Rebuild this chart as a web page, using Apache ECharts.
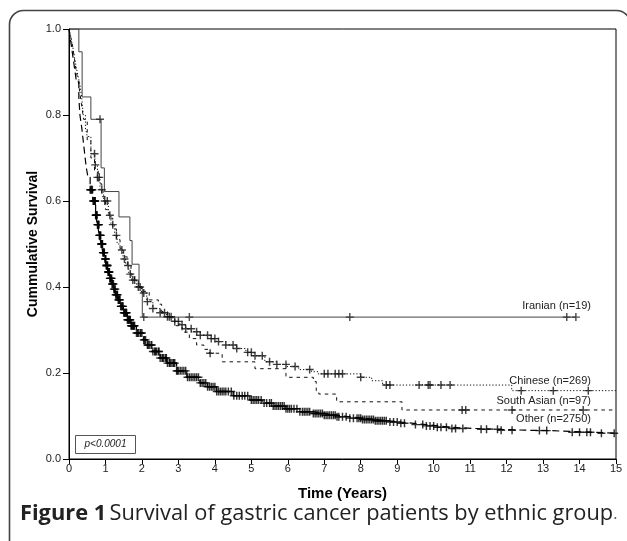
<!DOCTYPE html>
<html>
<head>
<meta charset="utf-8">
<script src="https://cdn.jsdelivr.net/npm/echarts@6/dist/echarts.min.js"></script>
<style>
html,body{margin:0;padding:0;background:#fff;}
#c{width:627px;height:541px;}
</style>
</head>
<body>
<div id="c"></div>
<script>
// ---- Data (time in years, cumulative survival) ----
const xTicks = [0,1,2,3,4,5,6,7,8,9,10,11,12,13,14,15];
const yTicks = [0.0,0.2,0.4,0.6,0.8,1.0];

const iranian = [[0,1],[0.27,0.947],[0.36,0.842],[0.60,0.79],[0.88,0.677],[0.97,0.622],[1.37,0.563],[1.67,0.508],[1.73,0.453],[1.92,0.40],[2.01,0.33],[13.9,0.33]];
const iranianCensor = [0.85,2.05,3.3,7.7,13.65,13.9];

const chinese = [[0,1],[0.05,0.98],[0.1,0.96],[0.15,0.935],[0.2,0.91],[0.25,0.89],[0.3,0.87],[0.35,0.84],[0.39,0.8],[0.45,0.77],[0.5,0.75],[0.6,0.71],[0.71,0.684],[0.78,0.655],[0.85,0.626],[0.95,0.6],[1.08,0.567],[1.15,0.545],[1.25,0.52],[1.32,0.5],[1.4,0.486],[1.48,0.465],[1.55,0.45],[1.64,0.43],[1.72,0.416],[1.85,0.4],[1.99,0.386],[2.13,0.366],[2.3,0.35],[2.5,0.34],[2.68,0.331],[2.85,0.32],[3.04,0.312],[3.2,0.303],[3.36,0.296],[3.6,0.288],[3.87,0.28],[4.05,0.273],[4.3,0.265],[4.6,0.257],[4.85,0.248],[5.05,0.24],[5.37,0.226],[5.7,0.22],[5.97,0.215],[6.3,0.208],[6.65,0.203],[6.83,0.198],[8.0,0.19],[8.3,0.182],[8.6,0.172],[12.14,0.159],[15,0.159]];
const chineseCensor = [0.7,0.72,0.78,0.83,0.9,0.98,1.05,1.12,1.2,1.3,1.45,1.52,1.62,1.68,1.75,1.8,1.9,1.95,2.05,2.15,2.3,2.5,2.62,2.7,2.75,2.8,2.9,3.0,3.1,3.2,3.35,3.5,3.6,3.8,3.9,4.0,4.1,4.3,4.5,4.6,4.9,5.0,5.1,5.3,5.5,5.7,5.95,6.2,6.6,7.0,7.1,7.3,7.4,7.5,8.0,8.7,8.8,9.6,9.85,9.9,10.2,10.45,12.4,13.28,14.24];

const southAsian = [[0,1],[0.05,0.98],[0.1,0.96],[0.15,0.93],[0.2,0.9],[0.25,0.88],[0.3,0.85],[0.35,0.82],[0.4,0.79],[0.5,0.74],[0.6,0.7],[0.7,0.67],[0.8,0.64],[0.9,0.61],[1.0,0.58],[1.1,0.56],[1.2,0.535],[1.3,0.51],[1.4,0.49],[1.5,0.47],[1.6,0.45],[1.7,0.43],[1.8,0.415],[1.9,0.4],[2.0,0.39],[2.2,0.37],[2.45,0.36],[2.54,0.343],[2.7,0.33],[2.9,0.31],[3.1,0.295],[3.3,0.28],[3.5,0.265],[3.7,0.255],[3.85,0.246],[4.2,0.226],[5.1,0.21],[5.95,0.19],[6.7,0.18],[6.78,0.159],[6.85,0.151],[7.34,0.133],[9.13,0.114],[15,0.114]];
const southAsianCensor = [3.87,10.78,10.88,12.15,14.1];

const other = [[0,1],[0.05,0.97],[0.1,0.94],[0.15,0.91],[0.2,0.88],[0.27,0.84],[0.3,0.8],[0.35,0.77],[0.39,0.74],[0.43,0.71],[0.47,0.68],[0.52,0.655],[0.58,0.626],[0.65,0.6],[0.73,0.567],[0.78,0.545],[0.83,0.52],[0.88,0.5],[0.93,0.48],[0.98,0.465],[1.02,0.45],[1.07,0.435],[1.12,0.42],[1.18,0.407],[1.23,0.395],[1.28,0.382],[1.34,0.37],[1.41,0.355],[1.49,0.34],[1.6,0.324],[1.7,0.31],[1.85,0.293],[2.04,0.277],[2.15,0.265],[2.3,0.25],[2.5,0.235],[2.68,0.223],[2.95,0.205],[3.23,0.19],[3.59,0.177],[3.8,0.168],[4.05,0.157],[4.5,0.147],[4.96,0.137],[5.3,0.13],[5.6,0.123],[5.95,0.117],[6.33,0.11],[6.7,0.106],[7.0,0.102],[7.35,0.098],[7.7,0.095],[8.05,0.092],[8.4,0.089],[8.75,0.086],[9.07,0.083],[9.45,0.08],[9.8,0.077],[10.1,0.074],[10.45,0.071],[11.1,0.069],[11.8,0.067],[12.5,0.066],[13.19,0.064],[13.8,0.062],[14.37,0.06],[15,0.06]];
const otherCensor = [0.58,0.6,0.62,0.64,0.66,0.68,0.7,0.71,0.72,0.73,0.74,0.75,0.76,0.77,0.78,0.79,0.8,0.81,0.82,0.83,0.84,0.85,0.86,0.87,0.88,0.89,0.9,0.91,0.92,0.93,0.94,0.95,0.96,0.97,0.99,1.0,1.01,1.02,1.03,1.04,1.05,1.06,1.07,1.08,1.09,1.1,1.11,1.12,1.13,1.14,1.15,1.17,1.18,1.2,1.22,1.23,1.25,1.27,1.28,1.3,1.32,1.33,1.35,1.37,1.38,1.4,1.42,1.43,1.45,1.47,1.48,1.5,1.52,1.53,1.55,1.57,1.58,1.6,1.62,1.63,1.65,1.67,1.68,1.7,1.72,1.73,1.75,1.77,1.78,1.8,1.85,1.88,1.9,1.95,1.97,2.0,2.05,2.07,2.1,2.15,2.17,2.2,2.25,2.27,2.3,2.35,2.37,2.4,2.45,2.47,2.5,2.55,2.57,2.6,2.65,2.67,2.7,2.75,2.77,2.8,2.85,2.87,2.9,2.95,2.97,3.0,3.05,3.1,3.15,3.2,3.25,3.3,3.35,3.4,3.45,3.5,3.55,3.6,3.65,3.7,3.75,3.8,3.85,3.9,3.95,4.0,4.05,4.1,4.15,4.2,4.25,4.3,4.37,4.45,4.52,4.6,4.67,4.75,4.82,4.9,5.0,5.05,5.1,5.15,5.2,5.27,5.35,5.42,5.5,5.55,5.6,5.65,5.7,5.75,5.8,5.85,5.9,5.95,6.0,6.05,6.1,6.17,6.25,6.33,6.4,6.45,6.5,6.55,6.6,6.7,6.75,6.8,6.85,6.9,6.95,7.0,7.05,7.1,7.15,7.2,7.25,7.3,7.35,7.4,7.5,7.6,7.7,7.8,7.9,7.95,8.0,8.05,8.1,8.15,8.2,8.25,8.3,8.35,8.4,8.45,8.5,8.55,8.6,8.65,8.7,8.8,8.9,9.0,9.1,9.2,9.5,9.7,9.8,9.9,10.0,10.1,10.2,10.35,10.5,10.6,10.8,11.3,11.45,11.75,11.85,12.15,12.9,13.1,13.8,14.0,14.2,14.3,14.6,14.95];

const groupNames = ['Iranian (n=19)','Chinese (n=269)','South Asian (n=97)','Other (n=2750)'];

// ---- helpers ----
function survAt(curve, t){
  let s = curve[0][1];
  for (const p of curve){ if (p[0] <= t) s = p[1]; else break; }
  return s;
}
function censorPts(curve, times){ return times.map(t => [t, survAt(curve, t)]); }

const plus = 'path://M4.1,0H5.9V4.1H10V5.9H5.9V10H4.1V5.9H0V4.1H4.1Z';
const FONT = 'Liberation Sans';

function lineSeries(data, dash, color, width){
  return {type:'line', data:data, step:'end', symbol:'none', silent:true,
    lineStyle:{color:color, width:width, type:dash}, z:2};
}
function censorSeries(data, color){
  return {type:'scatter', data:data, symbol:plus, symbolSize:8, silent:true,
    itemStyle:{color:color}, z:3};
}

const chart = echarts.init(document.getElementById('c'), null, {renderer:'canvas'});
chart.setOption({
  animation:false,
  backgroundColor:'#fff',
  grid:{left:69, right:11, top:29, bottom:82, show:true, borderColor:'#000', borderWidth:1, backgroundColor:'transparent'},
  xAxis:{type:'value', min:0, max:15, interval:1,
    name:'Time (Years)', nameLocation:'middle', nameGap:27,
    nameTextStyle:{fontFamily:FONT, fontWeight:'bold', fontSize:15, color:'#000'},
    axisLine:{lineStyle:{color:'#000', width:1}},
    axisTick:{show:true, length:5, lineStyle:{color:'#000'}},
    axisLabel:{fontFamily:FONT, fontSize:11, color:'#222', margin:4,
      formatter:v => xTicks.includes(v) ? String(v) : ''},
    splitLine:{show:false}},
  yAxis:{type:'value', min:0, max:1, interval:0.2,
    name:'Cummulative Survival', nameLocation:'middle', nameGap:29, nameMoveOverlap:false,
    nameTextStyle:{fontFamily:FONT, fontWeight:'bold', fontSize:14, color:'#000'},
    axisLine:{show:true, lineStyle:{color:'#000', width:1}},
    axisTick:{show:true, length:6, lineStyle:{color:'#000'}},
    axisLabel:{fontFamily:FONT, fontSize:11, color:'#222', margin:8,
      formatter:v => yTicks.map(x=>x.toFixed(1)).includes(v.toFixed(1)) ? v.toFixed(1) : ''},
    splitLine:{show:false}},
  series:[
    lineSeries(iranian,'solid','#444',1),
    censorSeries(censorPts(iranian, iranianCensor),'#222'),
    lineSeries(chinese,[1.2,2],'#111',1),
    censorSeries(censorPts(chinese, chineseCensor),'#111'),
    lineSeries(southAsian,[3.5,4],'#111',1),
    censorSeries(censorPts(southAsian, southAsianCensor),'#111'),
    lineSeries(other,[7,4],'#000',1.2),
    censorSeries(censorPts(other, otherCensor),'#000')
  ],
  graphic:[
    {type:'rect', shape:{x:9.5, y:10.5, width:621, height:560, r:14}, silent:true,
      style:{fill:'none', stroke:'#444', lineWidth:1.6}, z:-1},
    {type:'text', right:36, top:300, silent:true,
      style:{text:groupNames[0], font:'11px "Liberation Sans"', fill:'#222'}},
    {type:'text', right:36, top:375, silent:true,
      style:{text:groupNames[1], font:'11px "Liberation Sans"', fill:'#222'}},
    {type:'text', right:36, top:395, silent:true,
      style:{text:groupNames[2], font:'11px "Liberation Sans"', fill:'#222'}},
    {type:'text', right:36, top:413, silent:true,
      style:{text:groupNames[3], font:'11px "Liberation Sans"', fill:'#222'}},
    {type:'rect', shape:{x:75.5, y:435.5, width:60, height:18}, silent:true,
      style:{fill:'#fff', stroke:'#555', lineWidth:1}},
    {type:'text', x:105.5, y:444.5, silent:true,
      style:{text:'p<0.0001', font:'italic 10px "Liberation Sans"', fill:'#222', align:'center', verticalAlign:'middle'}},
    {type:'text', x:20, y:514, silent:true,
      style:{text:'{b|Figure 1} {n|Survival of gastric cancer patients by ethnic group}{s|.}',
        verticalAlign:'middle',
        rich:{
          b:{fontFamily:'Open Sans', fontWeight:'bold', fontSize:21.8, fill:'#222'},
          n:{fontFamily:'Open Sans', fontSize:21.8, fill:'#222'},
          s:{fontFamily:'Open Sans', fontSize:16, fill:'#555'}
        }}}
  ]
});
</script>
</body>
</html>
